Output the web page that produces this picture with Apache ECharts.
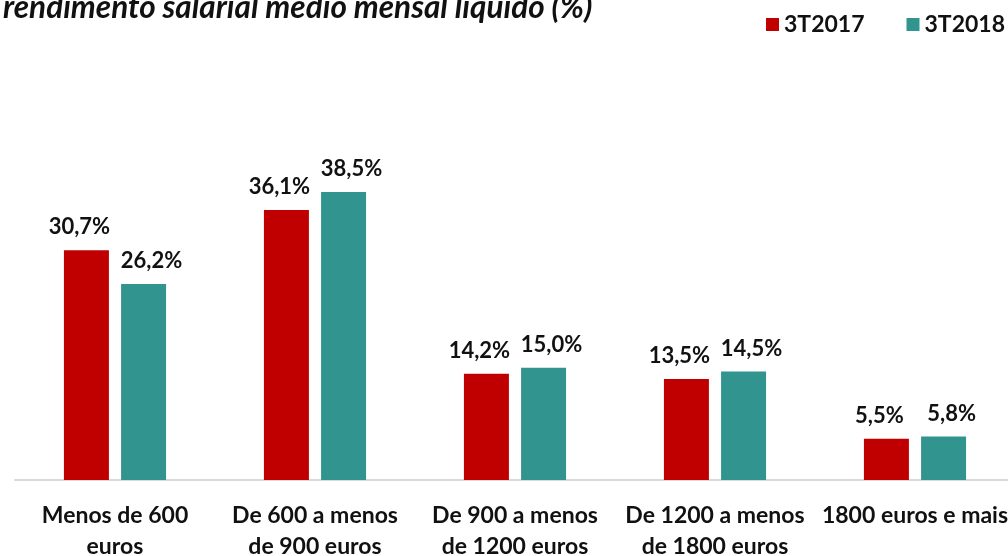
<!DOCTYPE html>
<html>
<head>
<meta charset="utf-8">
<script src="https://cdn.jsdelivr.net/npm/echarts@6/dist/echarts.min.js"></script>
<style>
  html, body { margin: 0; padding: 0; background: #fff; }
  #chart { width: 1008px; height: 556px; }
</style>
</head>
<body>
<div id="chart"></div>
<script>
  var categories = ['Menos de 600\neuros', 'De 600 a menos\nde 900 euros', 'De 900 a menos\nde 1200 euros', 'De 1200 a menos\nde 1800 euros', '1800 euros e mais'];
  var seriesNames = ['3T2017', '3T2018'];
  var values2017 = [30.7, 36.1, 14.2, 13.5, 5.5];
  var values2018 = [26.2, 38.5, 15.0, 14.5, 5.8];
  var colors = ['#C00000', '#31948F'];

  var fontFamily = 'Lato, "Open Sans", sans-serif';

  function pct(p) {
    return p.value.toFixed(1).replace('.', ',') + '%';
  }

  var chart = echarts.init(document.getElementById('chart'));
  var option = {
    animation: false,
    title: {
      text: 'rendimento salarial médio mensal líquido (%)',
      left: -2,
      top: -13,
      textStyle: {
        fontFamily: fontFamily,
        fontSize: 31.5,
        fontWeight: 'bold',
        fontStyle: 'italic',
        color: '#111'
      }
    },
    legend: {
      data: seriesNames,
      right: -2,
      top: 8,
      itemWidth: 13,
      itemHeight: 13,
      itemGap: 42,
      icon: 'rect',
      textStyle: {
        fontFamily: fontFamily,
        fontSize: 23,
        fontWeight: 'bold',
        color: '#111'
      }
    },
    grid: {
      left: 15,
      right: -7,
      top: 106,
      bottom: 76,
      outerBoundsMode: 'none'
    },
    xAxis: {
      type: 'category',
      data: categories,
      axisLine: { lineStyle: { color: '#d9d9d9', width: 2 } },
      axisTick: { show: false },
      axisLabel: {
        interval: 0,
        margin: 20,
        fontFamily: fontFamily,
        fontSize: 23,
        fontWeight: 'bold',
        lineHeight: 31,
        color: '#111'
      }
    },
    yAxis: {
      type: 'value',
      min: 0,
      max: 50,
      show: false
    },
    series: [
      {
        name: seriesNames[0],
        type: 'bar',
        data: values2017,
        barWidth: 45,
        barGap: '27%',
        itemStyle: { color: colors[0] },
        label: {
          show: true,
          position: 'top',
          distance: 12,
          offset: [-7, 0],
          formatter: pct,
          fontFamily: fontFamily,
          fontSize: 22,
          fontWeight: 'bold',
          color: '#111'
        }
      },
      {
        name: seriesNames[1],
        type: 'bar',
        data: values2018,
        barWidth: 45,
        itemStyle: { color: colors[1] },
        label: {
          show: true,
          position: 'top',
          distance: 12,
          offset: [8, 0],
          formatter: pct,
          fontFamily: fontFamily,
          fontSize: 22,
          fontWeight: 'bold',
          color: '#111'
        }
      }
    ]
  };
  chart.setOption(option);
</script>
</body>
</html>
